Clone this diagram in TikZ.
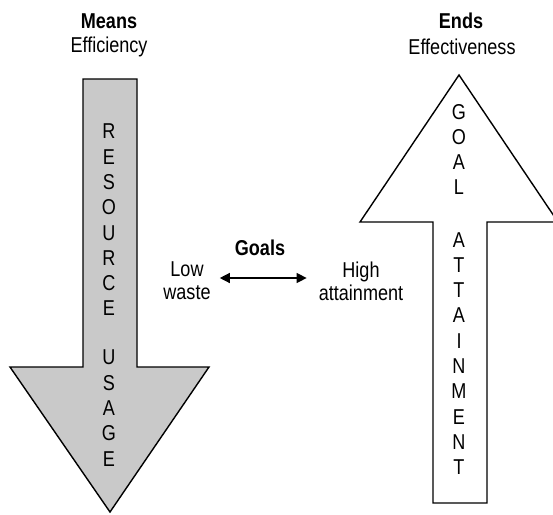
\documentclass[tikz,border=0pt]{standalone}
\usepackage{fontspec}
\setmainfont[FakeStretch=0.84]{Liberation Sans}
\usetikzlibrary{arrows.meta}
\definecolor{stipple}{rgb}{0.79,0.79,0.79}
\begin{document}
\begin{tikzpicture}[x=1pt,y=-1pt,
  lbl/.style={font=\fontsize{21.5}{23}\selectfont, inner sep=0pt, align=center},
  head/.style={font=\bfseries\fontsize{21.5}{23}\selectfont, inner sep=0pt},
  stack/.style={font=\fontsize{21.5}{25.3}\selectfont, inner sep=0pt, align=center},
  bigarrow/.style={draw=black, line width=1.4pt, line join=miter},
  both/.style={{Triangle[length=10pt,width=10pt]}-{Triangle[length=10pt,width=10pt]}, line width=1.3pt}]
  \clip (0,0) rectangle (553,514);
  \fill[white] (0,0) rectangle (553,514);

  % downward arrow: resource usage
  \draw[bigarrow, fill=stipple]
    (83,79) -- (137,79) -- (137,367) -- (209,367) -- (110,512)
    -- (10,367) -- (83,367) -- cycle;
  % upward arrow: goal attainment
  \draw[bigarrow, fill=white]
    (433,503) -- (487,503) -- (487,222) -- (558,222) -- (459,75)
    -- (360,222) -- (433,222) -- cycle;

  % titles
  \node[head] (means) at (109,21) {Means};
  \node[lbl]  (eff)   at (109,47) {Efficiency};
  \node[head] (ends)  at (461,21) {Ends};
  \node[lbl]  (effv)  at (462,47) {Effectiveness};

  % letters inside the arrows
  \node[stack] (resource) at (109,220) {R\\E\\S\\O\\U\\R\\C\\E};
  \node[stack] (usage)    at (109,408) {U\\S\\A\\G\\E};
  \node[stack] (goal)     at (459,149.5) {G\\O\\A\\L};
  \node[stack] (attain)   at (459,353.5) {A\\T\\T\\A\\I\\N\\M\\E\\N\\T};

  % goals between the two ends
  \node[head] (goals) at (260,248) {Goals};
  \node[lbl]  (low)   at (187,281) {Low\\waste};
  \node[lbl]  (high)  at (361,281) {High\\attainment};
  \draw[both, shorten <=9pt, shorten >=12pt] ([yshift=3pt]low.east) -- ([yshift=3pt]high.west);
\end{tikzpicture}
\end{document}
